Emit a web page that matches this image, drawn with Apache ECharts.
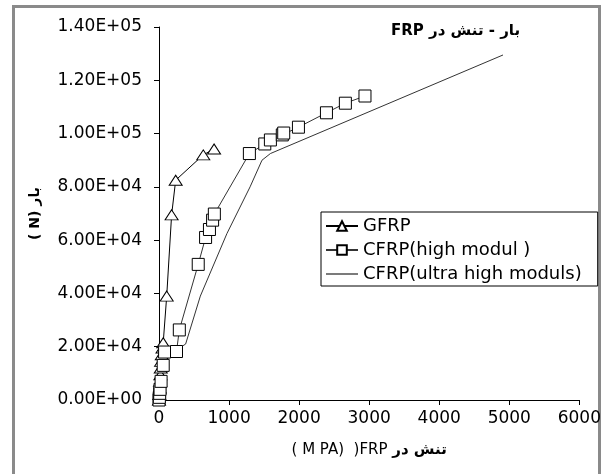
<!DOCTYPE html>
<html>
<head>
<meta charset="utf-8">
<script src="https://cdn.jsdelivr.net/npm/echarts@6/dist/echarts.min.js"></script>
<style>
  html, body { margin: 0; padding: 0; background: #fff; }
  #chart { width: 604px; height: 474px; }
</style>
</head>
<body>
<div id="chart"></div>
<script>
// stress in FRP (MPa) vs load (N)
const gfrpData = [
    [0, 0], [5, 2000], [10, 4500], [15, 7000], [20, 9500], [25, 12000],
    [30, 14500], [40, 17000], [50, 19500], [60, 21500], [110, 39000],
    [180, 69500], [238, 82500], [632, 92000], [786, 94200]
];
const cfrpHighData = [
    [0, 0], [5, 1000], [10, 2500], [15, 4000], [30, 7000], [60, 13000],
    [80, 18000], [250, 18200], [290, 26300], [560, 50900], [665, 61000],
    [720, 64000], [765, 67500], [790, 69800], [1290, 92500], [1510, 96100],
    [1590, 97600], [1760, 99500], [1780, 100200], [1990, 102400],
    [2390, 107800], [2660, 111400], [2940, 114100]
];
const cfrpUltraData = [
    [0, 0], [20, 4000], [40, 9000], [60, 14000], [90, 18000], [260, 19000],
    [380, 21000], [590, 39000], [970, 62500], [1300, 80000], [1470, 90000],
    [1590, 92500], [4910, 129500]
];
const seriesNames = ['GFRP', 'CFRP(high modul )', 'CFRP(ultra high moduls)'];

const FONT = 'DejaVu Sans';

// Excel style 1.40E+05
function sciLabel(v) {
    if (v === 0) return '0.00E+00';
    const e = Math.floor(Math.log10(v));
    const m = v / Math.pow(10, e);
    return m.toFixed(2) + 'E+' + (e < 10 ? '0' + e : e);
}

const chart = echarts.init(document.getElementById('chart'));

const option = {
    animation: false,
    backgroundColor: '#fff',
    graphic: [{
        type: 'rect',
        shape: { x: 13.5, y: 6.5, width: 586, height: 480 },
        style: { fill: 'none', stroke: '#8a8a8a', lineWidth: 3 },
        silent: true
    }],
    title: {
        text: '{a|FRP }{b|بار - تنش در}',
        left: 386,
        top: 19,
        textStyle: {
            rich: {
                a: { fontFamily: FONT, fontSize: 15, color: '#000' },
                b: { fontFamily: FONT, fontSize: 15, fontWeight: 'bold', color: '#000' }
            }
        }
    },
    legend: {
        orient: 'vertical',
        left: 321,
        top: 212,
        padding: [4, 16, 2, 4],
        itemGap: 4,
        itemWidth: 32,
        itemHeight: 12,
        borderColor: '#000',
        borderWidth: 1,
        backgroundColor: '#fff',
        textStyle: { fontFamily: FONT, fontSize: 18, color: '#000', lineHeight: 20 },
        data: [
            seriesNames[0],
            seriesNames[1],
            { name: seriesNames[2], icon: 'path://M0,0 L40,0 L40,1.3 L0,1.3 Z' }
        ]
    },
    grid: { left: 159, right: 24, top: 27, bottom: 74 },
    xAxis: {
        type: 'value',
        min: 0,
        max: 6000,
        interval: 1000,
        name: '{a|( M PA)  )FRP }{b|تنش در}',
        nameLocation: 'middle',
        nameGap: 43,
        nameTextStyle: {
            rich: {
                a: { fontFamily: FONT, fontSize: 15, color: '#000' },
                b: { fontFamily: FONT, fontSize: 15, fontWeight: 'bold', color: '#000' }
            }
        },
        axisLine: { show: true, lineStyle: { color: '#000', width: 1 } },
        axisTick: { show: true, length: 5, lineStyle: { color: '#000' } },
        axisLabel: { margin: 10, fontFamily: FONT, fontSize: 17, color: '#000', formatter: v => String(v) },
        splitLine: { show: false }
    },
    yAxis: {
        type: 'value',
        min: 0,
        max: 140000,
        interval: 20000,
        name: '( N) بار',
        nameLocation: 'middle',
        nameGap: 117,
        nameTextStyle: { fontFamily: FONT, fontSize: 14, fontWeight: 'bold', color: '#000' },
        axisLine: { show: true, lineStyle: { color: '#000', width: 1 } },
        axisTick: { show: true, length: 5, lineStyle: { color: '#000' } },
        axisLabel: { margin: 17, fontFamily: FONT, fontSize: 17, color: '#000', formatter: sciLabel },
        splitLine: { show: false }
    },
    series: [
        {
            name: seriesNames[0],
            type: 'line',
            data: gfrpData,
            symbol: 'triangle',
            symbolSize: [13, 10],
            showAllSymbol: true,
            lineStyle: { color: '#000', width: 1 },
            itemStyle: { color: '#fff', borderColor: '#000', borderWidth: 1 }
        },
        {
            name: seriesNames[1],
            type: 'line',
            data: cfrpHighData,
            symbol: 'rect',
            symbolSize: 12,
            showAllSymbol: true,
            lineStyle: { color: '#333', width: 1 },
            itemStyle: { color: '#fff', borderColor: '#000', borderWidth: 1 }
        },
        {
            name: seriesNames[2],
            type: 'line',
            data: cfrpUltraData,
            symbol: 'none',
            lineStyle: { color: '#333', width: 1 },
            itemStyle: { color: '#000' }
        }
    ]
};

chart.setOption(option);
</script>
</body>
</html>
